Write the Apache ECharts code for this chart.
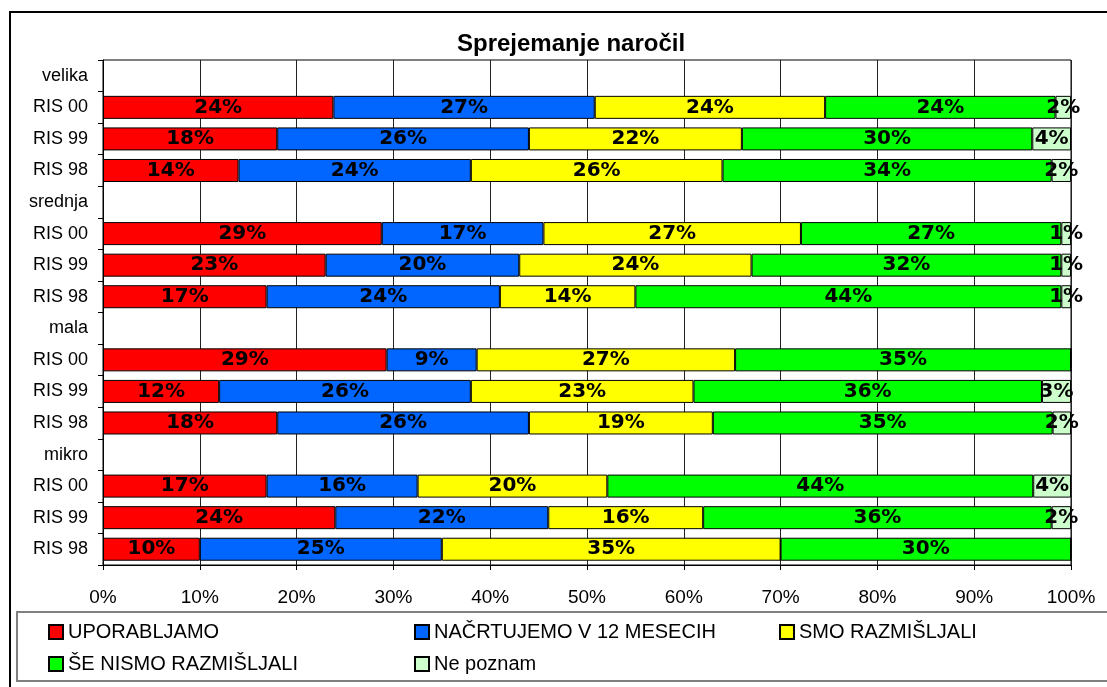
<!DOCTYPE html>
<html>
<head>
<meta charset="utf-8">
<script src="https://cdn.jsdelivr.net/npm/echarts@6/dist/echarts.min.js"></script>
<style>
  html, body { margin: 0; padding: 0; background: #fff; }
  #main { width: 1107px; height: 687px; }
</style>
</head>
<body>
<div id="main"></div>
<script>
// kategorije od zgoraj navzdol (prazne vrstice so naslovi skupin)
var categories = ['velika', 'RIS 00', 'RIS 99', 'RIS 98',
  'srednja', 'RIS 00', 'RIS 99', 'RIS 98',
  'mala', 'RIS 00', 'RIS 99', 'RIS 98',
  'mikro', 'RIS 00', 'RIS 99', 'RIS 98'];

var seriesNames = ['UPORABLJAMO', 'NAČRTUJEMO V 12 MESECIH', 'SMO RAZMIŠLJALI', 'ŠE NISMO RAZMIŠLJALI', 'Ne poznam'];
var colors = ['#FF0000', '#0066FF', '#FFFF00', '#00FF00', '#CCFFCC'];

// deleži v %
var uporabljamo = [null, 23.8, 18.0, 14.0, null, 28.8, 23.0, 16.9, null, 29.3, 12.0, 18.0, null, 16.9, 24.0, 10.0];
var nacrtujemo  = [null, 27.0, 26.0, 24.0, null, 16.7, 20.0, 24.1, null, 9.3, 26.0, 26.0, null, 15.6, 22.0, 25.0];
var razmisljali = [null, 23.8, 22.0, 26.0, null, 26.6, 24.0, 14.0, null, 26.7, 23.0, 19.0, null, 19.6, 16.0, 35.0];
var nismo       = [null, 23.8, 30.0, 34.0, null, 26.9, 32.0, 44.0, null, 34.7, 36.0, 35.1, null, 44.0, 36.0, 30.0];
var nePoznam    = [null, 1.6, 4.0, 2.0, null, 1.0, 1.0, 1.0, null, 0, 3.0, 1.9, null, 3.9, 2.0, 0];

var xTicks = ['0%', '10%', '20%', '30%', '40%', '50%', '60%', '70%', '80%', '90%', '100%'];

var allData = [uporabljamo, nacrtujemo, razmisljali, nismo, nePoznam];

var chart = echarts.init(document.getElementById('main'));

var series = allData.map(function (d, i) {
  return {
    name: seriesNames[i],
    type: 'bar',
    stack: 'skupaj',
    data: d,
    barWidth: 23,
    itemStyle: { color: colors[i], borderColor: '#000', borderWidth: 1 },
    label: {
      show: true,
      position: 'inside',
      offset: [0, 2],
      color: '#000',
      fontFamily: 'DejaVu Sans',
      fontWeight: 'bold',
      fontSize: 20,
      formatter: function (p) {
        if (!p.value) return '';
        return Math.round(p.value) + '%';
      }
    },
    labelLayout: { hideOverlap: false }
  };
});

var legendFont = { fontFamily: 'Liberation Sans', fontSize: 20, color: '#000' };

var option = {
  backgroundColor: '#fff',
  animation: false,
  title: {
    text: 'Sprejemanje naročil',
    left: 452,
    top: 27,
    textStyle: { fontFamily: 'Liberation Sans', fontWeight: 'bold', fontSize: 24, color: '#000' }
  },
  graphic: [
    { type: 'rect', shape: { x: 10, y: 12, width: 1110, height: 690 }, style: { fill: 'none', stroke: '#000', lineWidth: 2 }, z: -1 },
    { type: 'rect', shape: { x: 17, y: 612, width: 1100, height: 69 }, style: { fill: '#fff', stroke: '#808080', lineWidth: 2 }, z: -1 }
  ],
  legend: [
    { data: [seriesNames[0], seriesNames[3]], orient: 'vertical', left: 43, top: 617, itemGap: 12, itemWidth: 14, itemHeight: 14, textStyle: legendFont, icon: 'rect' },
    { data: [seriesNames[1], seriesNames[4]], orient: 'vertical', left: 409, top: 617, itemGap: 12, itemWidth: 14, itemHeight: 14, textStyle: legendFont, icon: 'rect' },
    { data: [seriesNames[2]], orient: 'vertical', left: 774, top: 617, itemWidth: 14, itemHeight: 14, textStyle: legendFont, icon: 'rect' }
  ],
  grid: {
    left: 103, right: 36, top: 60, bottom: 122,
    show: true, borderColor: '#000', borderWidth: 1, backgroundColor: '#fff'
  },
  xAxis: {
    type: 'value',
    min: 0, max: 100, interval: 10,
    axisLine: { show: true, lineStyle: { color: '#000' } },
    axisTick: { show: true, length: 5, lineStyle: { color: '#000' } },
    splitLine: { show: true, lineStyle: { color: '#222', width: 1 } },
    axisLabel: {
      margin: 23,
      fontFamily: 'Liberation Sans', fontSize: 19, color: '#000',
      formatter: function (v) { return xTicks[Math.round(v / 10)]; }
    }
  },
  yAxis: {
    type: 'category',
    inverse: true,
    data: categories,
    axisLine: { show: true, lineStyle: { color: '#000' } },
    axisTick: { show: true, length: 5, lineStyle: { color: '#000' } },
    axisLabel: { margin: 15, fontFamily: 'Liberation Sans', fontSize: 18, color: '#000' }
  },
  series: series
};

chart.setOption(option);
</script>
</body>
</html>
